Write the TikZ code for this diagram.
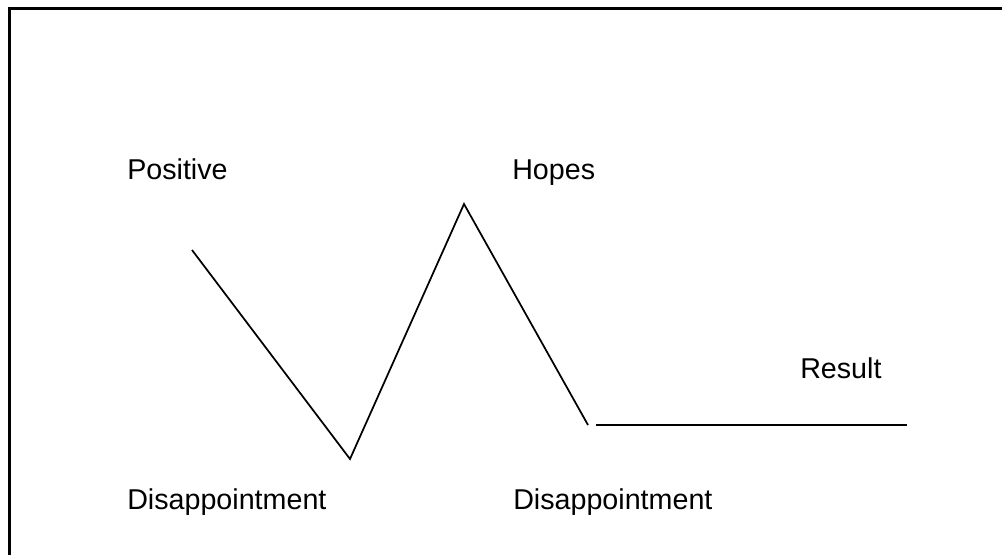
\documentclass[tikz,border=0pt]{standalone}
\usepackage{fontspec}
\setmainfont{Liberation Sans}
\tikzset{
  lbl/.style={anchor=base west,inner sep=0pt,font=\fontsize{21.5}{26}\selectfont},
  curve/.style={line width=1.3pt,line join=miter}
}
\begin{document}
\begin{tikzpicture}[x=0.75pt,y=-0.75pt]
      \useasboundingbox (0,0) rectangle (1002,554);
      % frame (only top and left edges are inside the picture)
      \draw[line width=1.8pt] (9.5,560) -- (9.5,8.5) -- (1010,8.5);
      % labels
      \node[lbl] (pos) at (127,179) {Positive};
      \node[lbl] (hopes) at (512,179) {Hopes};
      \node[lbl] (res) at (800,378) {Result};
      \node[lbl] (dis1) at (127,509) {Disappointment};
      \node[lbl] (dis2) at (513,509) {Disappointment};
      % the swing of feelings
      \coordinate (start) at (192,250);
      \coordinate (low) at (350,459);
      \coordinate (peak) at (464,204);
      \coordinate (drop) at (588,425);
      \draw[curve] (start) -- (low) -- (peak) -- (drop);
      \coordinate (flatA) at (596,425);
      \coordinate (flatB) at (907,425);
      \draw[curve] (flatA) -- (flatB);
    \end{tikzpicture}
\end{document}
